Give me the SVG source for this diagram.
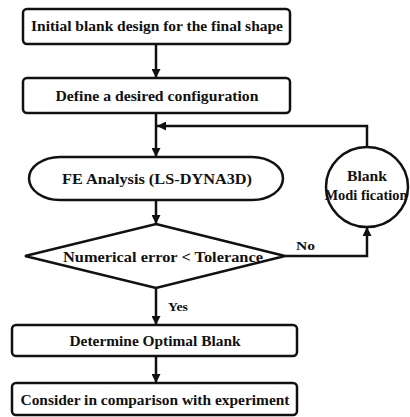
<svg xmlns="http://www.w3.org/2000/svg" width="410" height="417" viewBox="0 0 410 417">
<defs>
<marker id="ah" viewBox="0 0 10 10" refX="10" refY="5" markerWidth="9" markerHeight="9" markerUnits="userSpaceOnUse" orient="auto">
<path d="M0,0 L10,5 L0,10 Z" fill="#111"/>
</marker>
<style>
.s{fill:#fff;stroke:#111;stroke-width:2.5}
.c{fill:none;stroke:#111;stroke-width:2.5}
.t{font-family:"Liberation Serif","Times New Roman",serif;font-size:15px;font-weight:bold;fill:#111;text-anchor:middle}
.l{font-family:"Liberation Serif","Times New Roman",serif;font-size:13px;font-weight:bold;fill:#111}
</style>
</defs>
<rect width="410" height="417" fill="#fff"/>
<g id="connectors">
<line class="c" x1="156" y1="44" x2="156" y2="78" marker-end="url(#ah)"/>
<line class="c" x1="156" y1="113" x2="156" y2="157" marker-end="url(#ah)"/>
<polyline class="c" points="367,147 367,126 157,126" marker-end="url(#ah)"/>
<line class="c" x1="156" y1="200" x2="156" y2="224" marker-end="url(#ah)"/>
<polyline class="c" points="285,256 367,256 367,227" marker-end="url(#ah)"/>
<line class="c" x1="156" y1="288" x2="156" y2="325" marker-end="url(#ah)"/>
<line class="c" x1="156" y1="356" x2="156" y2="383" marker-end="url(#ah)"/>
<text class="l" x="296" y="250" textLength="19" lengthAdjust="spacingAndGlyphs">No</text>
<text class="l" x="168" y="311" textLength="20" lengthAdjust="spacingAndGlyphs">Yes</text>
</g>
<g id="n1">
<rect class="s" x="23" y="9" width="267" height="35" rx="4"/>
<text class="t" x="157" y="31" textLength="252" lengthAdjust="spacingAndGlyphs">Initial blank design for the final shape</text>
</g>
<g id="n2">
<rect class="s" x="23" y="78" width="267" height="35" rx="4"/>
<text class="t" x="157" y="101" textLength="203" lengthAdjust="spacingAndGlyphs">Define a desired configuration</text>
</g>
<g id="n3">
<path class="s" d="M60,157 L252,157 A31,21.5 0 0 1 252,200 L60,200 A31,21.5 0 0 1 60,157 Z"/>
<text class="t" x="157" y="184" textLength="190" lengthAdjust="spacingAndGlyphs">FE Analysis (LS-DYNA3D)</text>
</g>
<g id="n4">
<polygon class="s" points="156,224 285,256 156,288 25,256"/>
<text class="t" x="163" y="262" textLength="200" lengthAdjust="spacingAndGlyphs">Numerical error &lt; Tolerance</text>
</g>
<g id="n5">
<ellipse class="s" cx="367" cy="187" rx="41" ry="40"/>
<text class="t" x="367" y="181" textLength="40" lengthAdjust="spacingAndGlyphs">Blank</text>
<text class="t" x="366" y="200" textLength="83" lengthAdjust="spacingAndGlyphs">Modi fication</text>
</g>
<g id="n6">
<rect class="s" x="12" y="325" width="285" height="31" rx="4"/>
<text class="t" x="155" y="346" textLength="171" lengthAdjust="spacingAndGlyphs">Determine Optimal Blank</text>
</g>
<g id="n7">
<rect class="s" x="12" y="383" width="285" height="32" rx="4"/>
<text class="t" x="155" y="405" textLength="269" lengthAdjust="spacingAndGlyphs">Consider in comparison with experiment</text>
</g>
</svg>
